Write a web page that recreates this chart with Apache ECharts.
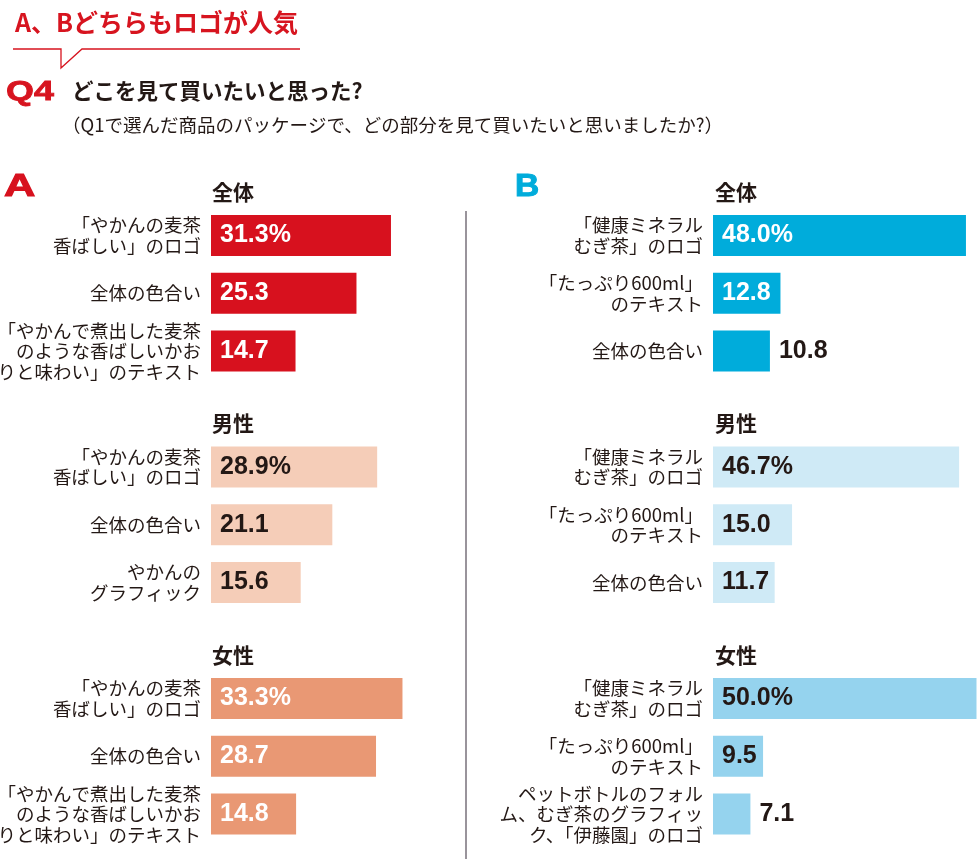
<!DOCTYPE html>
<html>
<head>
<meta charset="utf-8">
<script src="https://cdn.jsdelivr.net/npm/echarts@6/dist/echarts.min.js"></script>
<style>html,body{margin:0;padding:0;background:#fff}#c{width:980px;height:868px}</style>
</head>
<body>
<div id="c"></div>
<script>
// ---- data ----
const groupNames = ['全体', '男性', '女性'];

const catA_total  = ['「やかんの麦茶\n香ばしい」のロゴ', '全体の色合い', '「やかんで煮出した麦茶\nのような香ばしいかお\nりと味わい」のテキスト'];
const valA_total  = [31.3, 25.3, 14.7];
const catA_male   = ['「やかんの麦茶\n香ばしい」のロゴ', '全体の色合い', 'やかんの\nグラフィック'];
const valA_male   = [28.9, 21.1, 15.6];
const catA_female = ['「やかんの麦茶\n香ばしい」のロゴ', '全体の色合い', '「やかんで煮出した麦茶\nのような香ばしいかお\nりと味わい」のテキスト'];
const valA_female = [33.3, 28.7, 14.8];

const catB_total  = ['「健康ミネラル\nむぎ茶」のロゴ', '「たっぷり600ml」\nのテキスト', '全体の色合い'];
const valB_total  = [48.0, 12.8, 10.8];
const catB_male   = ['「健康ミネラル\nむぎ茶」のロゴ', '「たっぷり600ml」\nのテキスト', '全体の色合い'];
const valB_male   = [46.7, 15.0, 11.7];
const catB_female = ['「健康ミネラル\nむぎ茶」のロゴ', '「たっぷり600ml」\nのテキスト', 'ペットボトルのフォル\nム、むぎ茶のグラフィッ\nク、「伊藤園」のロゴ'];
const valB_female = [50.0, 9.5, 7.1];

// ---- layout / style ----
const DARK = '#231815';
const RED = '#d7141f';
const panels = [
  { left: 211, max: 35, width: 201.25, headerX: 212,
    groups: [
      { cats: catA_total,  vals: valA_total,  color: '#d7111e', text: '#ffffff' },
      { cats: catA_male,   vals: valA_male,   color: '#f5cdb8', text: DARK },
      { cats: catA_female, vals: valA_female, color: '#e99874', text: '#ffffff' }
    ]},
  { left: 713, max: 50, width: 263.5, headerX: 715,
    groups: [
      { cats: catB_total,  vals: valB_total,  color: '#00acdb', text: '#ffffff' },
      { cats: catB_male,   vals: valB_male,   color: '#cfeaf6', text: DARK },
      { cats: catB_female, vals: valB_female, color: '#95d3ee', text: DARK }
    ]}
];
const groupTops = [206.6, 438.1, 669.6];
const groupHeaderY = [194, 425, 657];
const bandH = 57.8;

const LABEL_FONT = 'bold 25px "Liberation Sans", Arial, sans-serif';
const measureCtx = document.createElement('canvas').getContext('2d');
measureCtx.font = LABEL_FONT;
function fmt(v, i) { return v.toFixed(1) + (i === 0 ? '%' : ''); }

const grids = [], xAxes = [], yAxes = [], series = [];
const graphics = [];

panels.forEach((p, pi) => {
  p.groups.forEach((g, gi) => {
    const idx = grids.length;
    grids.push({ left: p.left, top: groupTops[gi], width: p.width, height: bandH * 3,
      containLabel: false, outerBoundsMode: 'none' });
    xAxes.push({ type: 'value', gridIndex: idx, min: 0, max: p.max, show: false, splitLine: { show: false } });
    yAxes.push({
      type: 'category', gridIndex: idx, inverse: true, data: g.cats,
      axisLine: { show: false }, axisTick: { show: false },
      axisLabel: { margin: 10, fontSize: 18.5, lineHeight: 20.5, color: DARK,
        fontFamily: '"Noto Sans CJK JP", sans-serif', align: 'right' }
    });
    const pxPerUnit = p.width / p.max;
    series.push({
      type: 'bar', xAxisIndex: idx, yAxisIndex: idx, barWidth: 41,
      itemStyle: { color: g.color },
      label: {
        show: true, fontSize: 25, fontWeight: 'bold',
        fontFamily: '"Liberation Sans", Arial, sans-serif',
        formatter: (prm) => fmt(prm.value, prm.dataIndex)
      },
      data: g.vals.map((v, i) => {
        const tw = measureCtx.measureText(fmt(v, i)).width;
        const inside = tw + 9 + 2 <= v * pxPerUnit;
        return { value: v, label: { position: inside ? 'insideLeft' : 'right', distance: 9, color: inside ? g.text : DARK } };
      })
    });
    graphics.push({
      type: 'text', left: p.headerX, top: groupHeaderY[gi] - 12,
      style: { text: groupNames[gi], fontSize: 21, fontWeight: 'bold', fill: DARK,
        fontFamily: '"Noto Sans CJK JP", sans-serif' }
    });
  });
});

// titles and decorations
graphics.push(
  { type: 'text', left: 15, top: 10,
    style: { text: 'A、Bどちらもロゴが人気', fontSize: 25, fontWeight: 'bold', fill: RED,
      fontFamily: '"Noto Sans CJK JP", sans-serif' } },
  { type: 'polyline', shape: { points: [[13, 49], [61, 49], [61, 68], [82, 49], [300, 49]] },
    style: { stroke: RED, lineWidth: 1.3, fill: null } },
  { type: 'text', x: 6, y: 78, scaleX: 1.28,
    style: { text: 'Q4', fontSize: 28, fontWeight: 'bold', fill: RED, stroke: RED, lineWidth: 0.8,
      fontFamily: '"Liberation Sans", Arial, sans-serif' } },
  { type: 'text', left: 72, top: 80,
    style: { text: 'どこを見て買いたいと思った?', fontSize: 21.5, fontWeight: 'bold', fill: DARK,
      fontFamily: '"Noto Sans CJK JP", sans-serif' } },
  { type: 'text', left: 62, top: 116,
    style: { text: '（Q1で選んだ商品のパッケージで、どの部分を見て買いたいと思いましたか?）', fontSize: 18.5, fill: DARK,
      fontFamily: '"Noto Sans CJK JP", sans-serif' } },
  { type: 'text', x: 4, y: 172, scaleX: 1.4,
    style: { text: 'A', fontSize: 31, fontWeight: 'bold', fill: '#d7111e', stroke: '#d7111e', lineWidth: 1,
      fontFamily: '"Liberation Sans", Arial, sans-serif' } },
  { type: 'text', x: 515, y: 172, scaleX: 1.08,
    style: { text: 'B', fontSize: 31, fontWeight: 'bold', fill: '#00acdb', stroke: '#00acdb', lineWidth: 1,
      fontFamily: '"Liberation Sans", Arial, sans-serif' } },
  { type: 'line', shape: { x1: 466, y1: 211, x2: 466, y2: 859 },
    style: { stroke: '#77717a', lineWidth: 1.5 } }
);

const chart = echarts.init(document.getElementById('c'), null, { renderer: 'canvas' });
chart.setOption({
  animation: false,
  backgroundColor: '#ffffff',
  grid: grids, xAxis: xAxes, yAxis: yAxes, series: series,
  graphic: graphics
});
</script>
</body>
</html>
